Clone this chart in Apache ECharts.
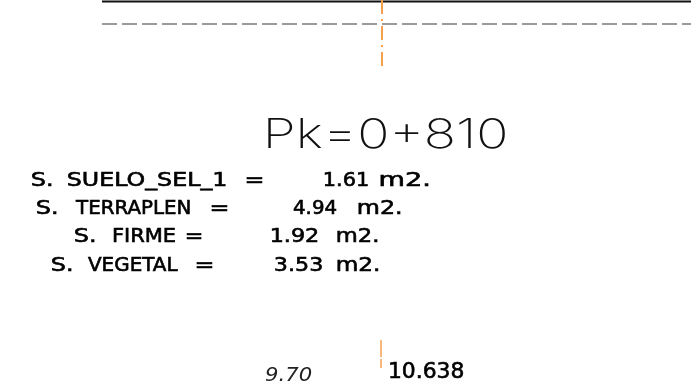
<!DOCTYPE html>
<html>
<head>
<meta charset="utf-8">
<script src="https://cdn.jsdelivr.net/npm/echarts@6/dist/echarts.min.js"></script>
<style>html,body{margin:0;padding:0;background:#fff;}#c{width:691px;height:388px;}</style>
</head>
<body>
<div id="c"></div>
<script>
// ---- data ----
const stationLabel = 'Pk=0+810';
const areaNames = ['SUELO_SEL_1', 'TERRAPLEN', 'FIRME', 'VEGETAL'];
const areaValues = [1.61, 4.94, 1.92, 3.53];
const areaUnit = 'm2.';
const distanceLabel = '9.70';
const elevationLabel = '10.638';
// drawing geometry (drawing units)
const groundLine = [[102, 1.5], [691, 1.5]];
const subgradeLine = [[102, 24], [691, 24]];
const axisTop = [[382, 0], [382, 66]];
const axisBottomA = [[381, 340], [381, 357]];
const axisBottomB = [[381, 359], [381, 368]];

// ---- layout (text spans [left, right] and cap-centre rows) ----
const rowY = [179, 206.5, 234.5, 263.5];
const sSpan = [[32, 51], [37, 56], [75, 94], [52, 71]];
const nameSpan = [[68, 226], [75, 190], [113, 175], [88, 178]];
const eqSpan = [[247, 262], [212, 227], [187, 201], [197, 212]];
const valSpan = [[325, 368], [293, 337], [272, 318], [275, 322]];
const unitSpan = [[380, 428], [358, 400], [337, 377], [337, 378]];
const stationSpan = [268, 505], stationY = 133;
const distSpan = [265, 312], distY = 374;
const elevSpan = [390, 463], elevY = 369.5;

const chart = echarts.init(document.getElementById('c'), null, {renderer: 'canvas'});
const orange = '#f5a14c';
function lineSeries(data, color, width, type) {
  return {type: 'line', data: data, showSymbol: false, silent: true, animation: false,
    lineStyle: {color: color, width: width, type: type}};
}
chart.setOption({
  animation: false,
  backgroundColor: '#fff',
  grid: {left: 0, right: 0, top: 0, bottom: 0},
  xAxis: {type: 'value', min: 0, max: 691, show: false},
  yAxis: {type: 'value', min: 0, max: 388, inverse: true, show: false},
  series: [
    lineSeries(groundLine, '#111', 2, 'solid'),
    lineSeries(subgradeLine, '#9a9a9a', 2, [15, 5]),
    lineSeries(axisTop, orange, 2, [14, 5, 2, 5]),
    lineSeries(axisBottomA, orange, 1.5, 'solid'),
    lineSeries(axisBottomB, orange, 1.5, 'solid')
  ]
});

const mctx = document.createElement('canvas').getContext('2d');
// place text so its ink spans [x0,x1] horizontally and its cap centre sits at y
function fitText(text, span, y, font, opts) {
  opts = opts || {};
  mctx.font = font;
  mctx.textBaseline = 'middle';
  mctx.textAlign = 'left';
  const m = mctx.measureText(text);
  const inkL = -m.actualBoundingBoxLeft, inkR = m.actualBoundingBoxRight;
  const h = mctx.measureText('H');
  const capCentre = (h.actualBoundingBoxDescent - h.actualBoundingBoxAscent) / 2;
  const p0 = chart.convertToPixel({gridIndex: 0}, [span[0], y]);
  const p1 = chart.convertToPixel({gridIndex: 0}, [span[1], y]);
  const sx = (p1[0] - p0[0]) / (inkR - inkL);
  return {
    type: 'text', x: p0[0] - inkL * sx, y: p0[1] - capCentre, scaleX: sx, originX: 0, originY: 0, silent: true,
    style: {
      text: text, font: font, fill: opts.color || '#000',
      stroke: opts.stroke || null, lineWidth: opts.lineWidth || 0,
      textAlign: 'left', verticalAlign: 'middle', textVerticalAlign: 'middle'
    }
  };
}
const F = '"DejaVu Sans", sans-serif';
const labelFont = 'normal normal 19px ' + F;
const strong = {stroke: '#000', lineWidth: 0.6};
const els = [];
els.push(fitText(stationLabel, stationSpan, stationY, 'normal 200 41px Inter, ' + F, {color: '#111'}));
for (let i = 0; i < areaNames.length; i++) {
  els.push(fitText('S.', sSpan[i], rowY[i], labelFont, strong));
  els.push(fitText(areaNames[i], nameSpan[i], rowY[i], labelFont, strong));
  els.push(fitText('=', eqSpan[i], rowY[i], labelFont, strong));
  els.push(fitText(areaValues[i].toFixed(2), valSpan[i], rowY[i], labelFont, strong));
  els.push(fitText(areaUnit, unitSpan[i], rowY[i], labelFont, strong));
}
els.push(fitText(distanceLabel, distSpan, distY, 'italic normal 19px ' + F, {color: '#222'}));
els.push(fitText(elevationLabel, elevSpan, elevY, 'normal normal 21px ' + F, strong));
chart.setOption({graphic: {elements: els}});
</script>
</body>
</html>
